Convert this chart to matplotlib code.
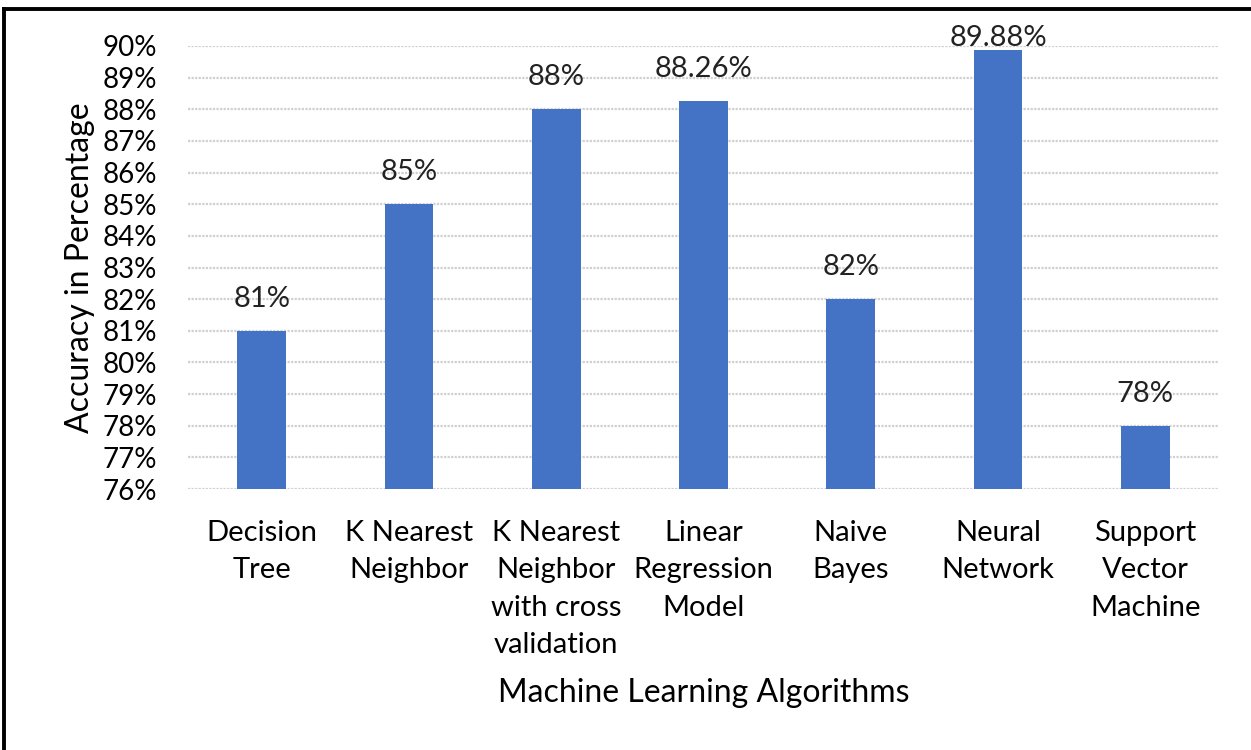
import matplotlib
matplotlib.use("Agg")
import matplotlib.pyplot as plt
from matplotlib.lines import Line2D

categories = ["Decision\nTree", "K Nearest\nNeighbor", "K Nearest\nNeighbor\nwith cross\nvalidation",
              "Linear\nRegression\nModel", "Naive\nBayes", "Neural\nNetwork", "Support\nVector\nMachine"]
accuracy = [81, 85, 88, 88.26, 82, 89.88, 78]
value_labels = ["81%", "85%", "88%", "88.26%", "82%", "89.88%", "78%"]
y_ticks = list(range(76, 91))

plt.rcParams["font.family"] = ["Lato", "DejaVu Sans"]

W, H = 1251, 750
fig = plt.figure(figsize=(W / 100, H / 100), dpi=100)
ax = fig.add_axes([188 / W, 1 - 489 / H, (1219 - 188) / W, (489 - 46) / H])

x = range(len(categories))
ax.bar(x, [a - 76 for a in accuracy], bottom=76, width=0.33, color="#4472C4", zorder=3)
for xi, a, lab in zip(x, accuracy, value_labels):
    # excel pushes labels down when they would leave the plot area
    ax.text(xi, min(a + 0.6, 89.85), lab, ha="center", va="bottom", fontsize=21, color="#222222",
            clip_on=False)

ax.set_xlim(-0.5, len(categories) - 0.5)
ax.set_ylim(76, 90)
ax.set_yticks(y_ticks)
ax.set_yticklabels([f"{t}%" for t in y_ticks], fontsize=20)
ax.set_xticks(list(x))
ax.set_xticklabels(categories, fontsize=21, va="top", linespacing=1.55)
ax.tick_params(length=0, pad=22, axis="y")
ax.tick_params(length=0, pad=22, axis="x")
ax.yaxis.grid(True, color="#d0d0d0", lw=1.6, ls=(0, (1, 0.6)), zorder=0)
for s in ax.spines.values():
    s.set_visible(False)

ax.set_xlabel("Machine Learning Algorithms", fontsize=23, labelpad=14)
ax.set_ylabel("Accuracy in Percentage", fontsize=23, labelpad=6)

# outer frame (top and left edges)
fig.add_artist(Line2D([4 / W, 1], [1 - 9 / H, 1 - 9 / H], color="black", lw=2.8))
fig.add_artist(Line2D([4 / W, 4 / W], [0, 1 - 9 / H], color="black", lw=2.8))

fig.savefig("out.png", dpi=100)
